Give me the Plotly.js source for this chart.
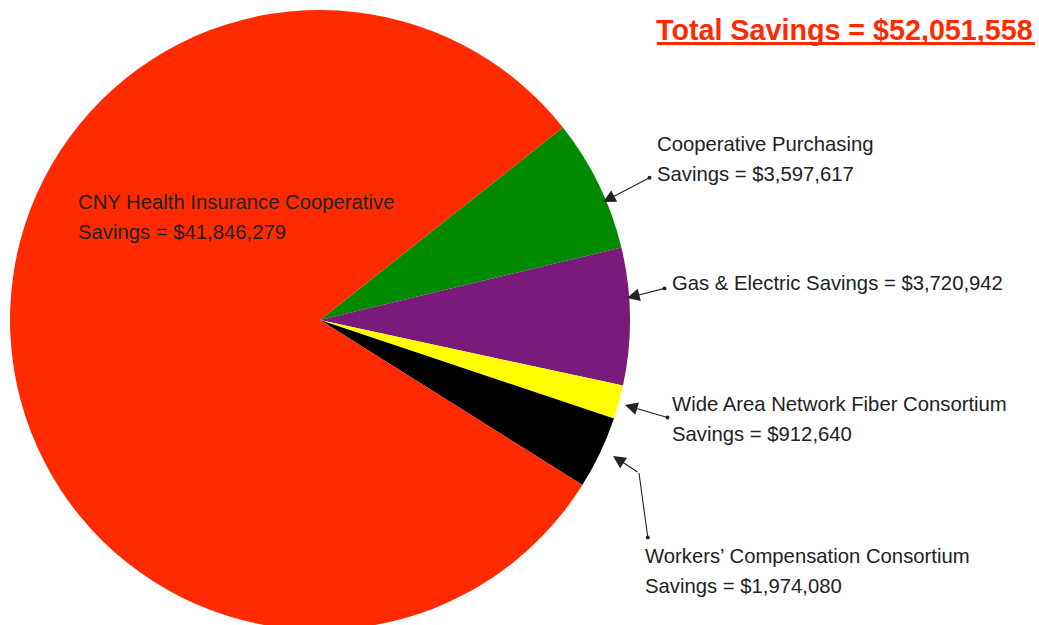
<!DOCTYPE html>
<html>
<head>
<meta charset="utf-8">
<script src="https://cdn.plot.ly/plotly-3.0.1.min.js"></script>
<style>
html,body{margin:0;padding:0;overflow:hidden;background:#fff;}
#chart{width:1039px;height:630px;}
</style>
</head>
<body>
<div id="chart"></div>
<script>
// ---- data ----
const categories = [
  "Cooperative Purchasing",
  "Gas & Electric",
  "Wide Area Network Fiber Consortium",
  "Workers\u2019 Compensation Consortium",
  "CNY Health Insurance Cooperative"
];
const savings = [3597617, 3720942, 912640, 1974080, 41846279];
const sliceColors = ["#008a00", "#7a1a7a", "#ffff00", "#000000", "#ff2a00"];
const totalLabel = "Total Savings = $52,051,558";
const labelLines = [
  ["Cooperative Purchasing", "Savings = $3,597,617"],
  ["Gas & Electric Savings = $3,720,942"],
  ["Wide Area Network Fiber Consortium", "Savings = $912,640"],
  ["Workers\u2019 Compensation Consortium", "Savings = $1,974,080"],
  ["CNY Health Insurance Cooperative", "Savings = $41,846,279"]
];

// ---- layout helpers (pixel -> paper) ----
const W = 1039, H = 630;
const px = x => x / W;
const py = y => (H - y) / H;

// label positions (left x, first line center y)
const labelPos = [[655,144],[670,283],[670,404],[643,556],[76,202]];
const lineGap = 30;

const annotations = [];
labelLines.forEach((lines, i) => {
  lines.forEach((t, j) => {
    annotations.push({
      xref:'paper', yref:'paper',
      x: px(labelPos[i][0]), y: py(labelPos[i][1] + j*lineGap),
      xanchor:'left', yanchor:'middle', showarrow:false,
      text: t,
      font:{family:'Liberation Sans, Arial, sans-serif', size:20.3, color:'#222'}
    });
  });
});

// arrows: [headX, headY, tailX, tailY, headStyle, startDot]
const arrows = [
  [603,202,651,177,2,true],
  [627,298,666,288,2,true],
  [625,405,669,418,2,true],
  [613,456,639,473,2,false],
  [639,473,648,539,0,true]
];
arrows.forEach(a => {
  annotations.push({
    xref:'paper', yref:'paper',
    x: px(a[0]), y: py(a[1]),
    ax: a[2]-a[0], ay: a[3]-a[1],
    text:'', showarrow:true,
    arrowhead:a[4], arrowsize:2.3, arrowwidth:1.1, arrowcolor:'#222',
    arrowside: a[5] ? 'end+start' : 'end',
    startarrowhead:6, startarrowsize:0.9,
    standoff:0, startstandoff:0
  });
});

annotations.push({
  xref:'paper', yref:'paper',
  x: px(1035), y: py(30),
  xanchor:'right', yanchor:'middle', showarrow:false,
  text:'<b>' + totalLabel + '</b>',
  font:{family:'Liberation Sans, Arial, sans-serif', size:28.7, color:'#ff2a00'}
});

const data = [{
  type:'pie',
  labels: categories,
  values: savings,
  marker:{colors: sliceColors, line:{width:0}},
  sort:false,
  direction:'clockwise',
  rotation: 51.6,
  textinfo:'none',
  hoverinfo:'label+value',
  domain:{x:[px(10), px(630)], y:[0, py(10)]}
}];

const layout = {
  width: W, height: H,
  margin:{l:0,r:0,t:0,b:0},
  showlegend:false,
  paper_bgcolor:'#ffffff',
  annotations: annotations,
  shapes:[{type:'line', xref:'paper', yref:'paper',
    x0:px(657), x1:px(1035), y0:py(43.5), y1:py(43.5),
    line:{color:'#ff2a00', width:3}}]
};

Plotly.newPlot('chart', data, layout, {displayModeBar:false, staticPlot:true});
</script>
</body>
</html>
